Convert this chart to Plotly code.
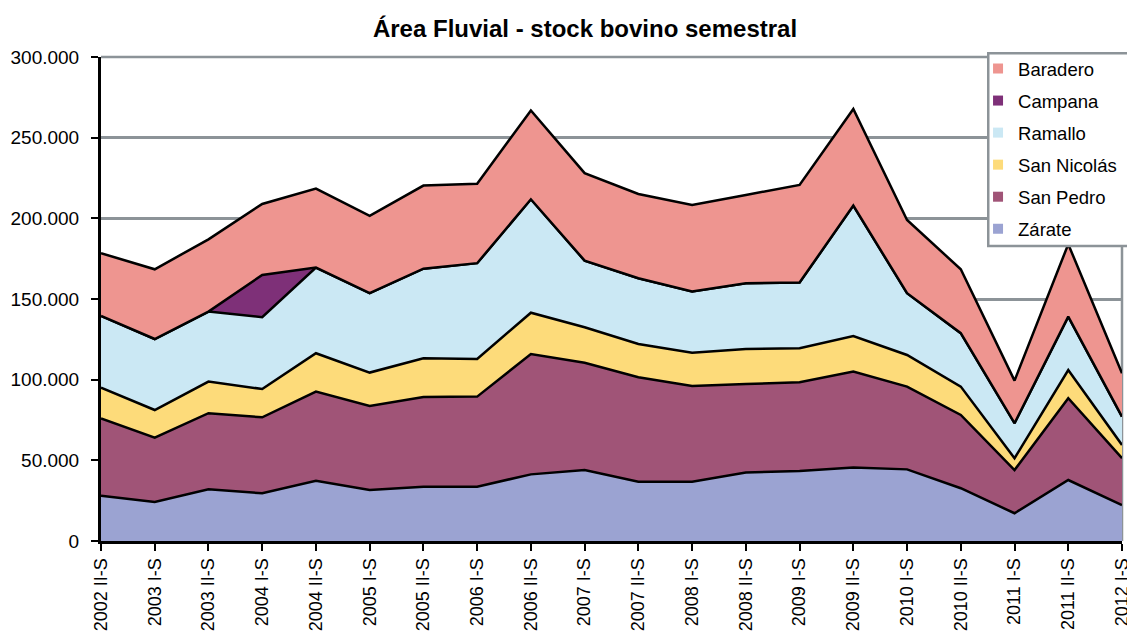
import plotly.graph_objects as go

# semesters on the x axis
periods = [
    "2002 II-S", "2003 I-S", "2003 II-S", "2004 I-S", "2004 II-S",
    "2005 I-S", "2005 II-S", "2006 I-S", "2006 II-S", "2007 I-S",
    "2007 II-S", "2008 I-S", "2008 II-S", "2009 I-S", "2009 II-S",
    "2010 I-S", "2010 II-S", "2011 I-S", "2011 II-S", "2012 I-S",
]

# head of cattle per partido
zarate = [28100, 24200, 32000, 29600, 37400, 31600, 33700, 33700, 41300, 44000,
          36800, 36800, 42400, 43400, 45500, 44400, 32700, 17200, 37800, 22300]
san_pedro = [47900, 39800, 47200, 47100, 55200, 52100, 55600, 55800, 74600, 66500,
             64700, 59300, 54900, 55000, 59500, 51300, 45400, 26800, 50700, 29000]
san_nicolas = [19100, 17200, 19600, 17500, 23800, 20700, 24000, 23300, 25600, 22000,
               20600, 20600, 21700, 21100, 22100, 19600, 17600, 7300, 17500, 8200]
ramallo = [44400, 44000, 43400, 44500, 53100, 49200, 55500, 59400, 70300, 41300,
           40800, 37900, 40800, 40700, 80800, 38300, 33100, 21700, 33100, 17600]
campana = [0, 0, 0, 26200, 0, 0, 0, 0, 0, 0,
           0, 0, 0, 0, 0, 0, 0, 0, 0, 0]
baradero = [38900, 43200, 44800, 44000, 48900, 47900, 51500, 49300, 55000, 54200,
            52200, 53700, 54700, 60500, 59900, 45400, 39600, 26400, 44900, 26900]

series = [
    ("Zárate", zarate, "#9BA3D2"),
    ("San Pedro", san_pedro, "#A05477"),
    ("San Nicolás", san_nicolas, "#FDDB7A"),
    ("Ramallo", ramallo, "#CBE8F4"),
    ("Campana", campana, "#7E3078"),
    ("Baradero", baradero, "#EE9590"),
]

FONT = "Liberation Sans, Arial, sans-serif"
GRID = "#8C9398"

fig = go.Figure()

# stacked areas
for name, vals, color in series:
    fig.add_trace(go.Scatter(
        x=periods, y=vals,
        name=name,
        mode="lines",
        stackgroup="one",
        fillcolor=color,
        line=dict(color="black", width=2.5),
        showlegend=False,
    ))

# legend entries as small squares, top series first (Excel style)
for name, vals, color in reversed(series):
    fig.add_trace(go.Scatter(
        x=[None], y=[None],
        name=name,
        mode="markers",
        marker=dict(symbol="square", size=10, color=color),
        legendgroup=name,
        showlegend=True,
    ))

# page body has an 8px margin, so the figure is 8px smaller on each side
fig.update_layout(
    width=1127,
    height=635,
    margin=dict(l=93, r=13, t=49, b=102),
    paper_bgcolor="white",
    plot_bgcolor="white",
    separators=",.",
    font=dict(family=FONT, size=18, color="black"),
    title=dict(
        text="<b>Área Fluvial - stock bovino semestral</b>",
        x=0.512, xanchor="center",
        y=0.968, yanchor="middle",
        font=dict(family=FONT, size=24, color="black"),
    ),
    legend=dict(
        x=0.859, xanchor="left",
        y=1.0145, yanchor="top",
        bgcolor="rgba(0,0,0,0)",
        borderwidth=0,
        traceorder="grouped",
        tracegroupgap=5,
        font=dict(family=FONT, size=18.5),
        itemwidth=30,
    ),
    showlegend=True,
)

fig.update_xaxes(
    type="category",
    range=[0, len(periods) - 1],
    tickangle=-90,
    ticks="outside",
    ticklen=7,
    tickwidth=2,
    tickcolor="black",
    showline=True,
    linecolor="black",
    linewidth=3,
    showgrid=False,
    automargin=False,
    tickfont=dict(family=FONT, size=18),
)

fig.update_yaxes(
    range=[0, 300000],
    dtick=50000,
    tickformat=",d",
    ticks="outside",
    ticklen=7,
    tickwidth=2,
    tickcolor="black",
    ticklabelstandoff=8,
    showline=True,
    linecolor="black",
    linewidth=3,
    showgrid=True,
    gridcolor=GRID,
    gridwidth=2.5,
    zeroline=False,
    automargin=False,
    tickfont=dict(family=FONT, size=19),
)

# plot-area border on the top and right (behind the areas)
fig.add_shape(
    type="line", xref="paper", yref="paper",
    x0=1, x1=1, y0=0, y1=1,
    line=dict(color=GRID, width=2.5),
    layer="below",
)
fig.add_shape(
    type="line", xref="paper", yref="paper",
    x0=0, x1=1, y0=1, y1=1,
    line=dict(color=GRID, width=2.5),
    layer="below",
)

# legend box, running off the right edge like the original
fig.add_shape(
    type="rect", xref="paper", yref="paper",
    x0=0.869, x1=1.03, y0=0.6095, y1=1.008,
    fillcolor="white",
    line=dict(color=GRID, width=2.5),
    layer="above",
)

fig.write_html("out.html")
